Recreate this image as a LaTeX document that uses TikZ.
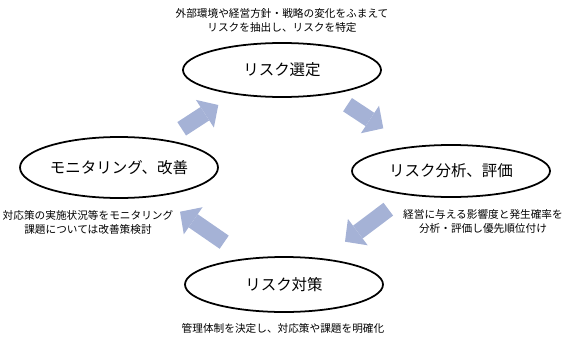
\documentclass[tikz,border=0pt]{standalone}
\usepackage{fontspec}
\setmainfont{Noto Sans CJK JP}
\usetikzlibrary{arrows.meta, shapes.geometric}
\definecolor{cblack}{HTML}{000000}
\definecolor{cflow}{HTML}{A5B2D6}
\tikzset{
  every picture/.style={line width=1.5pt},
  stage/.style={draw=cblack, ellipse, minimum width=5.94cm, inner sep=0pt, font=\fontsize{13.2}{16}\selectfont},
  flow/.style={-{Triangle[length=0.48cm, width=0.99cm, line width=0pt]}, draw=cflow, line width=0.48cm},
  note/.style={font=\fontsize{9.1}{12}\selectfont, align=center},
}

\begin{document}
\begin{tikzpicture}[x=0.03cm, y=-0.03cm]
  \useasboundingbox (0,0) rectangle (567,340);
  \foreach \i/\x/\y/\h/\name in {
    1/282/70/1.62cm/{リスク選定},
    2/451/171/1.56cm/{リスク分析、評価},
    3/284/284.5/1.65cm/{リスク対策},
    4/119/167.5/1.83cm/{モニタリング、改善}} {
    \node[stage, minimum height=\h] (s\i) at (\x,\y) {\name};
  }
  \foreach \i/\ax/\ay/\bx/\by in {1/347.5/104.7/383.3/128.3, 2/388.3/209.2/345/241.7,
    3/224.2/242.2/180/211.7, 4/181.7/128.8/218.3/105} {
    \coordinate (a\i) at (\ax,\ay);
    \coordinate (b\i) at (\bx,\by);
    \draw[flow] (a\i) -- (b\i);
  }
  \foreach \i/\x/\y/\txt in {
    1/282/20/{外部環境や経営方針・戦略の変化をふまえて\\リスクを抽出し、リスクを特定},
    2/483/221/{経営に与える影響度と発生確率を\\分析・評価し優先順位付け},
    3/283/328/{管理体制を決定し、対応策や課題を明確化},
    4/88/222/{対応策の実施状況等をモニタリング\\課題については改善策検討}}
    \node[note] (n\i) at (\x,\y) {\txt};
\end{tikzpicture}
\end{document}
